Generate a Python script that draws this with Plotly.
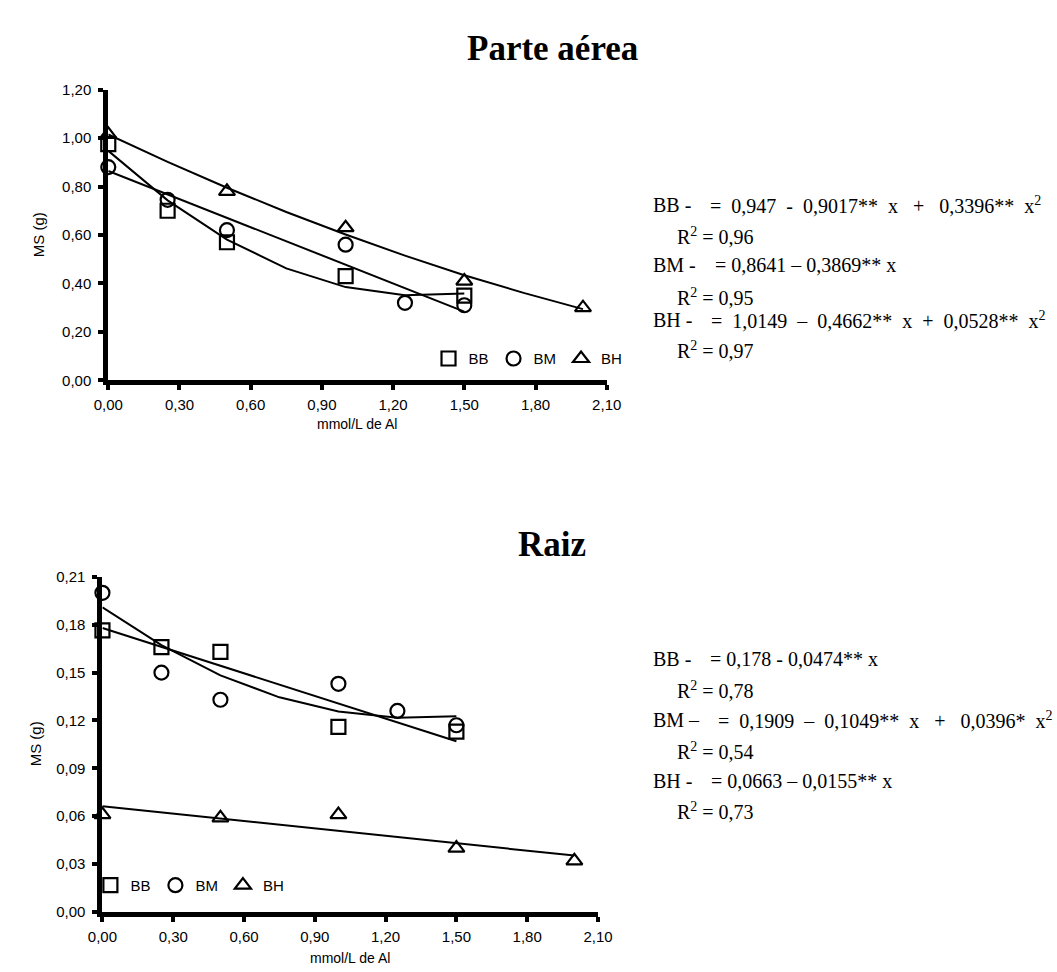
import plotly.graph_objects as go

W, H = 1057, 972

# ---------------- data: Parte aérea ----------------
top_bb_x = [0.0, 0.25, 0.5, 1.0, 1.5]
top_bb_y = [0.975, 0.70, 0.57, 0.43, 0.35]
top_bm_x = [0.0, 0.25, 0.5, 1.0, 1.25, 1.5]
top_bm_y = [0.88, 0.745, 0.62, 0.56, 0.32, 0.31]
top_bh_x = [0.0, 0.5, 1.0, 1.5, 2.0]
top_bh_y = [1.015, 0.78, 0.63, 0.41, 0.30]

top_bb_fit_x = [0.0, 0.25, 0.5, 0.75, 1.0, 1.25, 1.5]
top_bb_fit_y = [0.947, 0.743, 0.581, 0.462, 0.385, 0.351, 0.359]
top_bm_fit_x = [0.0, 1.5]
top_bm_fit_y = [0.864, 0.284]
top_bh_fit_x = [0.0, 0.25, 0.5, 0.75, 1.0, 1.25, 1.5, 1.75, 2.0]
top_bh_fit_y = [1.015, 0.902, 0.795, 0.695, 0.602, 0.515, 0.434, 0.361, 0.294]

# ---------------- data: Raiz ----------------
bot_bb_x = [0.0, 0.25, 0.5, 1.0, 1.5]
bot_bb_y = [0.1765, 0.166, 0.163, 0.116, 0.113]
bot_bm_x = [0.0, 0.25, 0.5, 1.0, 1.25, 1.5]
bot_bm_y = [0.200, 0.150, 0.133, 0.143, 0.126, 0.117]
bot_bh_x = [0.0, 0.5, 1.0, 1.5, 2.0]
bot_bh_y = [0.061, 0.059, 0.061, 0.040, 0.032]

bot_bb_fit_x = [0.0, 1.5]
bot_bb_fit_y = [0.178, 0.107]
bot_bm_fit_x = [0.0, 0.25, 0.5, 0.75, 1.0, 1.25, 1.5]
bot_bm_fit_y = [0.1909, 0.1672, 0.1483, 0.1345, 0.1256, 0.1217, 0.1227]
bot_bh_fit_x = [0.0, 2.0]
bot_bh_fit_y = [0.0663, 0.0353]

series_names = ["BB", "BM", "BH"]
symbols = ["square-open", "circle-open", "triangle-up-open"]

NB = "\u00a0"
top_eq_labels = ["BB -", "BM -", "BH -"]
top_eqs = ["=" + NB * 2 + "0,947" + NB * 2 + "-" + NB * 2 + "0,9017**" + NB * 2 + "x"
           + NB * 3 + "+" + NB * 3 + "0,3396**" + NB * 2 + "x<sup>2</sup>",
           "= 0,8641 – 0,3869** x",
           "=" + NB * 2 + "1,0149" + NB * 2 + "–" + NB * 2 + "0,4662**" + NB * 2 + "x"
           + NB * 2 + "+" + NB * 2 + "0,0528**" + NB * 2 + "x<sup>2</sup>"]
top_r2 = ["R<sup>2</sup> = 0,96", "R<sup>2</sup> = 0,95", "R<sup>2</sup> = 0,97"]

bot_eq_labels = ["BB -", "BM –", "BH -"]
bot_eqs = ["= 0,178 - 0,0474** x",
           "=" + NB * 2 + "0,1909" + NB * 2 + "–" + NB * 2 + "0,1049**" + NB * 2 + "x"
           + NB * 3 + "+" + NB * 3 + "0,0396*" + NB * 2 + "x<sup>2</sup>",
           "= 0,0663 – 0,0155** x"]
bot_r2 = ["R<sup>2</sup> = 0,78", "R<sup>2</sup> = 0,54", "R<sup>2</sup> = 0,73"]


def px(x):
    return x / W


def py(y):
    return 1 - y / H


SANS = "Arial, Liberation Sans, sans-serif"
SERIF = "Times New Roman, Liberation Serif, serif"

fig = go.Figure()

top_pts = [(top_bb_x, top_bb_y), (top_bm_x, top_bm_y), (top_bh_x, top_bh_y)]
top_fits = [(top_bb_fit_x, top_bb_fit_y), (top_bm_fit_x, top_bm_fit_y), (top_bh_fit_x, top_bh_fit_y)]
bot_pts = [(bot_bb_x, bot_bb_y), (bot_bm_x, bot_bm_y), (bot_bh_x, bot_bh_y)]
bot_fits = [(bot_bb_fit_x, bot_bb_fit_y), (bot_bm_fit_x, bot_bm_fit_y), (bot_bh_fit_x, bot_bh_fit_y)]

for (fx, fy) in top_fits:
    fig.add_trace(go.Scatter(x=fx, y=fy, mode="lines", line=dict(color="black", width=2),
                             showlegend=False, xaxis="x", yaxis="y", hoverinfo="skip"))
for (fx, fy) in bot_fits:
    fig.add_trace(go.Scatter(x=fx, y=fy, mode="lines", line=dict(color="black", width=2),
                             showlegend=False, xaxis="x2", yaxis="y2", hoverinfo="skip"))

for name, sym, (xs, ys) in zip(series_names, symbols, top_pts):
    fig.add_trace(go.Scatter(x=xs, y=ys, mode="markers", name=name, legend="legend",
                             marker=dict(symbol=sym, size=14, color="black", line=dict(width=2.2, color="black")),
                             cliponaxis=False, xaxis="x", yaxis="y"))
for name, sym, (xs, ys) in zip(series_names, symbols, bot_pts):
    fig.add_trace(go.Scatter(x=xs, y=ys, mode="markers", name=name, legend="legend2",
                             marker=dict(symbol=sym, size=14, color="black", line=dict(width=2.2, color="black")),
                             cliponaxis=False, xaxis="x2", yaxis="y2"))

axis_common = dict(showline=True, linewidth=5, linecolor="black", ticks="outside", ticklen=5,
                   tickwidth=4, tickcolor="black", showgrid=False, zeroline=False,
                   tickfont=dict(family=SANS, size=15, color="black"), tickformat=".2f")

fig.update_layout(
    width=W, height=H, margin=dict(l=0, r=0, t=0, b=0),
    paper_bgcolor="white", plot_bgcolor="white",
    separators=",.",
    xaxis=dict(axis_common, domain=[px(96), px(609)], range=[0, 2.1], dtick=0.3, tick0=0,
               anchor="y", ticklabelstandoff=2),
    yaxis=dict(axis_common, domain=[py(378), py(82)], range=[0, 1.2], dtick=0.2, tick0=0,
               anchor="x", ticklabelstandoff=4),
    xaxis2=dict(axis_common, domain=[px(90), px(600)], range=[0, 2.1], dtick=0.3, tick0=0,
                anchor="y2", ticklabelstandoff=2),
    yaxis2=dict(axis_common, domain=[py(919), py(578)], range=[0, 0.21], dtick=0.03, tick0=0,
                anchor="x2", ticklabelstandoff=4),
    legend=dict(orientation="h", x=px(528), y=py(356), xanchor="center", yanchor="middle",
                font=dict(family=SANS, size=15, color="black"), bgcolor="rgba(0,0,0,0)",
                itemwidth=30, tracegroupgap=0),
    legend2=dict(orientation="h", x=px(180), y=py(892), xanchor="center", yanchor="middle",
                 font=dict(family=SANS, size=15, color="black"), bgcolor="rgba(0,0,0,0)",
                 itemwidth=30, tracegroupgap=0),
)

ann = []
# titles
ann.append(dict(text="<b>Parte aérea</b>", x=px(553), y=py(40), font=dict(family=SERIF, size=35, color="black"),
                xanchor="center", yanchor="middle"))
ann.append(dict(text="<b>Raiz</b>", x=px(553), y=py(545), font=dict(family=SERIF, size=35, color="black"),
                xanchor="center", yanchor="middle"))
# axis titles
for (xx, yy) in [(25, 230), (22, 748)]:
    ann.append(dict(text="MS (g)", x=px(xx), y=py(yy), textangle=-90, font=dict(family=SANS, size=15, color="black"),
                    xanchor="center", yanchor="middle"))
for (xx, yy) in [(352, 422), (345, 966)]:
    ann.append(dict(text="mmol/L de Al", x=px(xx), y=py(yy), font=dict(family=SANS, size=14, color="black"),
                    xanchor="center", yanchor="middle"))

# equations
top_eq_y = [199, 261, 317]
top_r2_y = [231, 293, 347]
top_eq_x = [713, 718, 714]
for lab, eq, r2, ye, yr, xe in zip(top_eq_labels, top_eqs, top_r2, top_eq_y, top_r2_y, top_eq_x):
    ann.append(dict(text=lab, x=px(655), y=py(ye), xanchor="left", yanchor="middle",
                    font=dict(family=SERIF, size=20, color="black")))
    ann.append(dict(text=eq, x=px(xe), y=py(ye), xanchor="left", yanchor="middle",
                    font=dict(family=SERIF, size=20, color="black")))
    ann.append(dict(text=r2, x=px(679), y=py(yr), xanchor="left", yanchor="middle",
                    font=dict(family=SERIF, size=20, color="black")))

bot_eq_y = [662, 724, 786]
bot_r2_y = [693, 755, 816]
bot_eq_x = [713, 721, 714]
for lab, eq, r2, ye, yr, xe in zip(bot_eq_labels, bot_eqs, bot_r2, bot_eq_y, bot_r2_y, bot_eq_x):
    ann.append(dict(text=lab, x=px(655), y=py(ye), xanchor="left", yanchor="middle",
                    font=dict(family=SERIF, size=20, color="black")))
    ann.append(dict(text=eq, x=px(xe), y=py(ye), xanchor="left", yanchor="middle",
                    font=dict(family=SERIF, size=20, color="black")))
    ann.append(dict(text=r2, x=px(679), y=py(yr), xanchor="left", yanchor="middle",
                    font=dict(family=SERIF, size=20, color="black")))

for a in ann:
    a.update(xref="paper", yref="paper", showarrow=False)
fig.update_layout(annotations=ann)

fig.write_html("out.html")
